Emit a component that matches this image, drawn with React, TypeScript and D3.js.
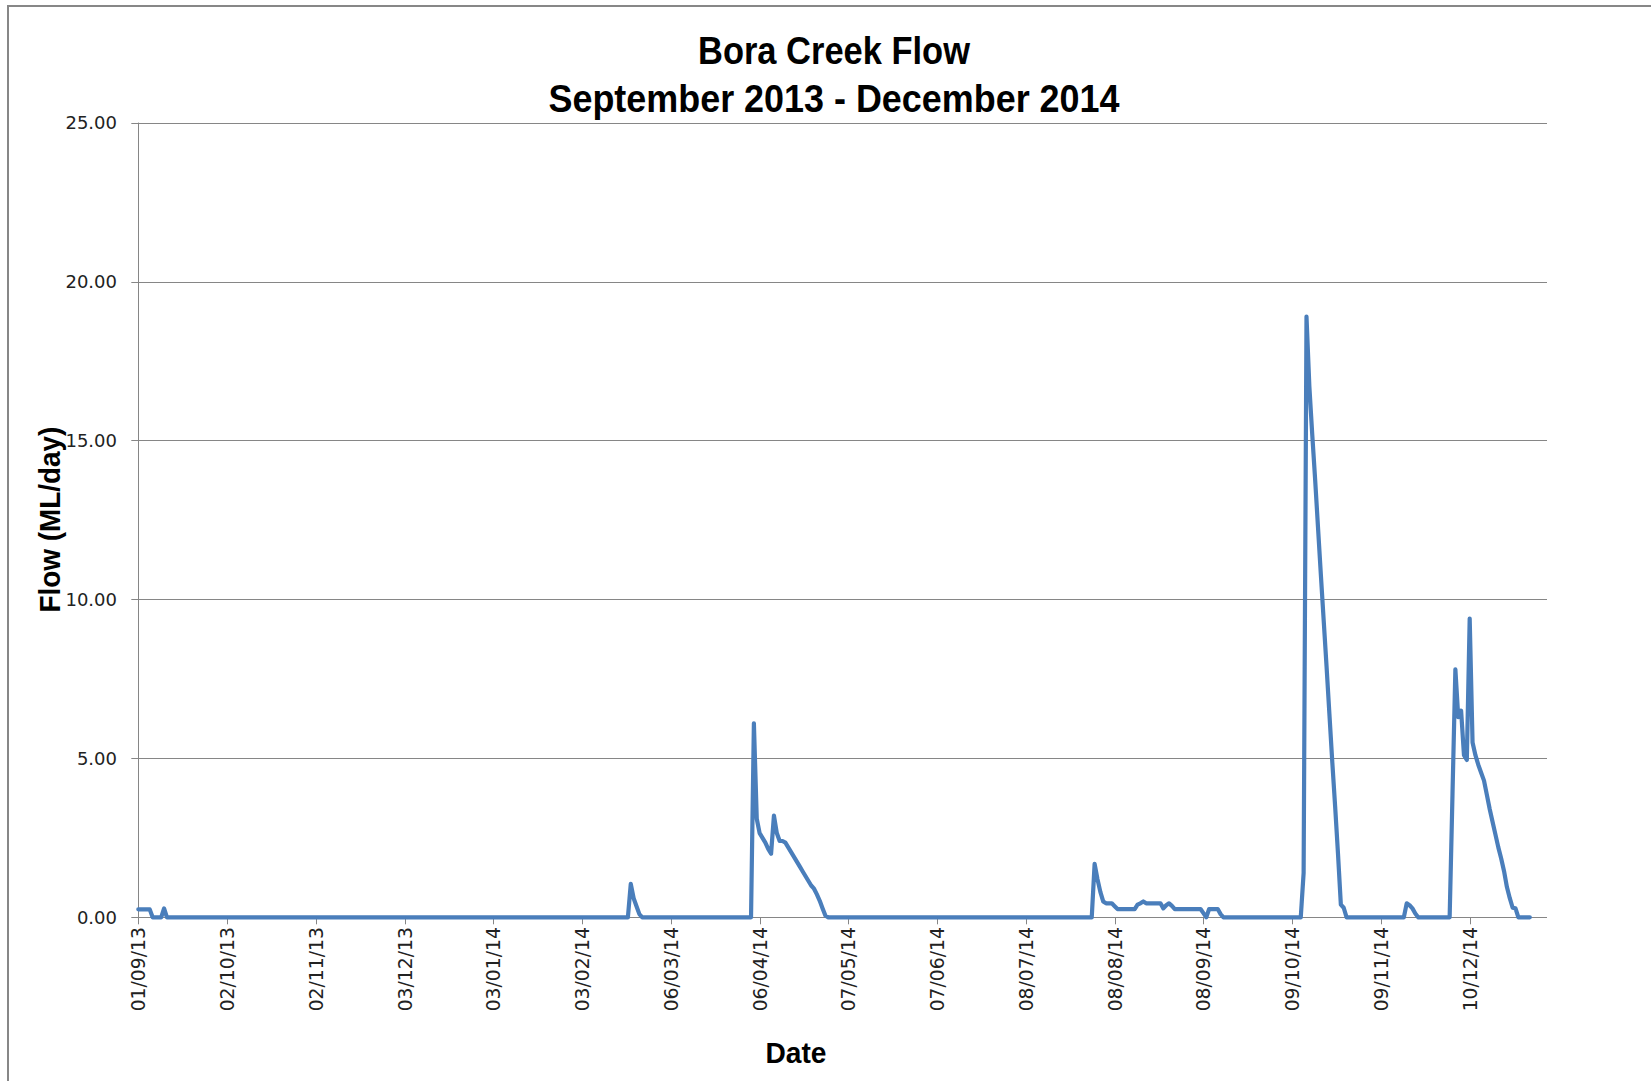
import React from "react";
import * as d3 from "d3";

const titleLines = ["Bora Creek Flow", "September 2013 - December 2014"];
const yAxisTitle = "Flow (ML/day)";
const xAxisTitle = "Date";

const yTicks = [0, 5, 10, 15, 20, 25];
const xTickDates = [
  "2013-09-01", "2013-10-02", "2013-11-02", "2013-12-03", "2014-01-03", "2014-02-03",
  "2014-03-06", "2014-04-06", "2014-05-07", "2014-06-07", "2014-07-08", "2014-08-08",
  "2014-09-08", "2014-10-09", "2014-11-09", "2014-12-10",
];

const flowDates = [
  "2013-09-01", "2013-09-05", "2013-09-06", "2013-09-09", "2013-09-10", "2013-09-11",
  "2014-02-19", "2014-02-20", "2014-02-21", "2014-02-22", "2014-02-23", "2014-02-24",
  "2014-04-03", "2014-04-04", "2014-04-05", "2014-04-06", "2014-04-07", "2014-04-08",
  "2014-04-09", "2014-04-10", "2014-04-11", "2014-04-12", "2014-04-13", "2014-04-14",
  "2014-04-15", "2014-04-16", "2014-04-17", "2014-04-18", "2014-04-19", "2014-04-20",
  "2014-04-21", "2014-04-22", "2014-04-23", "2014-04-24", "2014-04-25", "2014-04-26",
  "2014-04-27", "2014-04-28", "2014-04-29", "2014-04-30",
  "2014-07-31", "2014-08-01", "2014-08-02", "2014-08-03", "2014-08-04", "2014-08-05",
  "2014-08-07", "2014-08-08", "2014-08-09", "2014-08-15", "2014-08-16", "2014-08-17",
  "2014-08-18", "2014-08-19", "2014-08-24", "2014-08-25", "2014-08-26", "2014-08-27",
  "2014-08-28", "2014-08-29", "2014-09-07", "2014-09-08", "2014-09-09", "2014-09-10",
  "2014-09-13", "2014-09-14", "2014-09-15",
  "2014-10-12", "2014-10-13", "2014-10-14", "2014-10-15", "2014-10-16", "2014-10-17",
  "2014-10-18", "2014-10-19", "2014-10-20", "2014-10-21", "2014-10-22", "2014-10-23",
  "2014-10-24", "2014-10-25", "2014-10-26", "2014-10-27", "2014-10-28",
  "2014-11-17", "2014-11-18", "2014-11-19", "2014-11-20", "2014-11-21", "2014-11-22",
  "2014-12-03", "2014-12-04", "2014-12-05", "2014-12-06", "2014-12-07", "2014-12-08",
  "2014-12-09", "2014-12-10", "2014-12-11", "2014-12-12", "2014-12-13", "2014-12-14",
  "2014-12-15", "2014-12-16", "2014-12-17", "2014-12-18", "2014-12-19", "2014-12-20",
  "2014-12-21", "2014-12-22", "2014-12-23", "2014-12-24", "2014-12-25", "2014-12-26",
  "2014-12-27", "2014-12-31",
];

const flowValues = [
  0.25, 0.25, 0, 0, 0.28, 0,
  0, 1.05, 0.6, 0.35, 0.1, 0,
  0, 6.1, 3.1, 2.65, 2.5, 2.35,
  2.15, 2.0, 3.2, 2.65, 2.4, 2.4,
  2.35, 2.2, 2.05, 1.9, 1.75, 1.6,
  1.45, 1.3, 1.15, 1.0, 0.9, 0.72,
  0.52, 0.28, 0.05, 0,
  0, 1.68, 1.2, 0.8, 0.5, 0.44,
  0.44, 0.35, 0.26, 0.26, 0.4, 0.44,
  0.5, 0.44, 0.44, 0.28, 0.38, 0.44,
  0.36, 0.26, 0.26, 0.13, 0, 0.26,
  0.26, 0.1, 0,
  0, 1.4, 18.9, 16.7, 15.2, 13.8,
  12.3, 10.8, 9.35, 7.9, 6.4, 4.9,
  3.5, 2.0, 0.4, 0.3, 0,
  0, 0.44, 0.38, 0.28, 0.12, 0,
  0, 3.9, 7.8, 6.3, 6.5, 5.1,
  4.95, 9.4, 5.5, 5.1, 4.8, 4.55,
  4.3, 3.85, 3.4, 3.0, 2.6, 2.2,
  1.85, 1.45, 0.95, 0.6, 0.3, 0.28,
  0, 0,
];

const W = 1651;
const H = 1081;
const plot = { left: 138.3, right: 1547, top: 122.6, bottom: 917.3 };

const parse = d3.utcParse("%Y-%m-%d");
const fmtTick = d3.utcFormat("%d/%m/%y");

export default function App() {
  const start = parse("2013-09-01") as Date;
  const end = d3.utcDay.offset(start, 492);
  const x = d3.scaleUtc().domain([start, end]).range([plot.left, plot.right]);
  const y = d3.scaleLinear().domain([0, 25]).range([plot.bottom, plot.top]);

  const data = flowDates.map((d, i) => ({ date: parse(d) as Date, v: flowValues[i] }));
  const line = d3
    .line<{ date: Date; v: number }>()
    .x((d) => x(d.date))
    .y((d) => y(d.v));

  const gridColor = "#868686";
  const tickFont = "'DejaVu Sans', Verdana, sans-serif";
  const titleFont = "'Liberation Sans Narrow', 'Arial Narrow', 'Liberation Sans', sans-serif";

  return (
    <svg
      width={W}
      height={H}
      style={{ position: "absolute", left: 0, top: 0, background: "#fff" }}
    >
      <rect x={0} y={0} width={W} height={H} fill="#fff" />
      <path d={`M 8 ${H} V 6 H ${W}`} fill="none" stroke="#878787" strokeWidth={2} />

      <text
        x={834}
        y={64}
        textAnchor="middle"
        fontFamily={titleFont}
        fontWeight="bold"
        fontSize={39}
        textLength={272}
        lengthAdjust="spacingAndGlyphs"
        fill="#000"
      >
        {titleLines[0]}
      </text>
      <text
        x={834}
        y={111.5}
        textAnchor="middle"
        fontFamily={titleFont}
        fontWeight="bold"
        fontSize={39}
        textLength={571}
        lengthAdjust="spacingAndGlyphs"
        fill="#000"
      >
        {titleLines[1]}
      </text>

      {yTicks.map((t) => {
        const yy = Math.round(y(t)) + 0.5;
        return (
          <g key={t}>
            <line x1={plot.left} x2={plot.right} y1={yy} y2={yy} stroke={gridColor} strokeWidth={1} />
            <line x1={plot.left - 7} x2={plot.left} y1={yy} y2={yy} stroke={gridColor} strokeWidth={1} />
            <text
              x={117}
              y={y(t)}
              dy="0.36em"
              textAnchor="end"
              fontFamily={tickFont}
              fontSize={18}
              fill="#222"
            >
              {d3.format(".2f")(t)}
            </text>
          </g>
        );
      })}

      <line
        x1={Math.round(plot.left) + 0.5}
        x2={Math.round(plot.left) + 0.5}
        y1={plot.top}
        y2={plot.bottom}
        stroke={gridColor}
        strokeWidth={1}
      />

      {xTickDates.map((d) => {
        const xx = Math.round(x(parse(d) as Date)) + 0.5;
        return (
          <g key={d}>
            <line x1={xx} x2={xx} y1={plot.bottom} y2={plot.bottom + 7} stroke={gridColor} strokeWidth={1} />
            <text
              transform={`translate(${xx},${927}) rotate(-90)`}
              dy="0.36em"
              textAnchor="end"
              fontFamily={tickFont}
              fontSize={18.8}
              fill="#222"
            >
              {fmtTick(parse(d) as Date)}
            </text>
          </g>
        );
      })}

      <path
        d={line(data) || ""}
        fill="none"
        stroke="#4A7EBB"
        strokeWidth={4.2}
        strokeLinejoin="round"
        strokeLinecap="round"
      />

      <text
        transform={`translate(60,519.6) rotate(-90)`}
        textAnchor="middle"
        fontFamily={titleFont}
        fontWeight="bold"
        fontSize={29}
        textLength={186}
        lengthAdjust="spacingAndGlyphs"
        fill="#000"
      >
        {yAxisTitle}
      </text>
      <text
        x={796}
        y={1063}
        textAnchor="middle"
        fontFamily={titleFont}
        fontWeight="bold"
        fontSize={29}
        textLength={61}
        lengthAdjust="spacingAndGlyphs"
        fill="#000"
      >
        {xAxisTitle}
      </text>
    </svg>
  );
}
